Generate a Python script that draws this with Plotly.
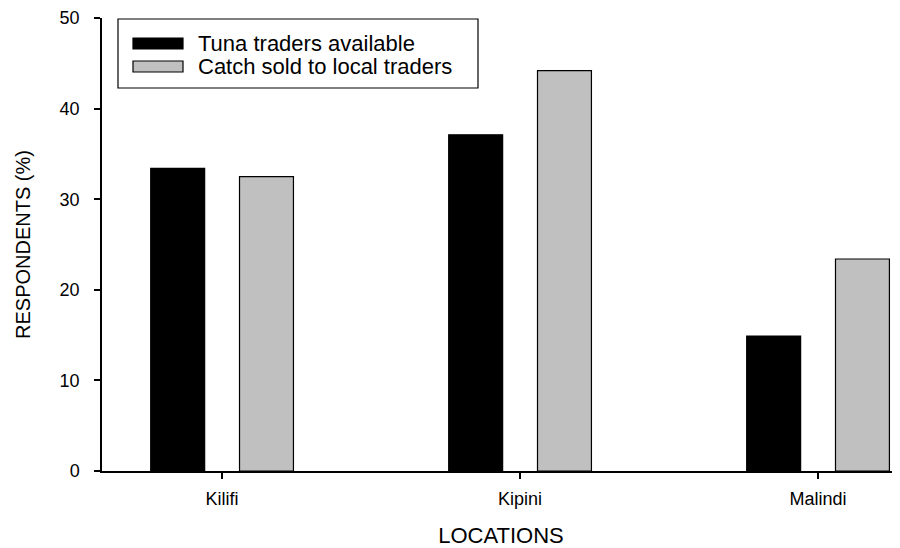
import plotly.graph_objects as go

# ---- data ----
locations = ["Kilifi", "Kipini", "Malindi"]
series_names = ["Tuna traders available", "Catch sold to local traders"]
tuna_traders = [33.4, 37.1, 14.9]
catch_sold = [32.5, 44.2, 23.4]
y_ticks = [0, 10, 20, 30, 40, 50]

colors = ["#000000", "#c0c0c0"]
FONT = "Liberation Sans, Arial, Helvetica, sans-serif"

# the page body adds an 8px margin, so the figure is drawn 8px smaller
PAGE_OFF = 8
W, H = 900 - PAGE_OFF, 548 - PAGE_OFF
ML, MR, MT, MB = 102 - PAGE_OFF, 0, 18 - PAGE_OFF, 77

fig = go.Figure()
bar_w = 0.181
offsets = [-0.2395, 0.0585]
for name, vals, col, off in zip(series_names, [tuna_traders, catch_sold], colors, offsets):
    fig.add_trace(go.Bar(
        x=locations, y=vals, name=name,
        width=bar_w, offset=off,
        marker=dict(color=col, line=dict(color="#000000", width=1.2)),
        showlegend=False,
    ))

# custom legend (box with wide swatches) in paper coordinates
pw = W - ML - MR
ph = H - MT - MB
def px_x(p):
    return (p - PAGE_OFF - ML) / pw
def px_y(p):
    return (H - MB - (p - PAGE_OFF)) / ph

shapes = [dict(type="rect", xref="paper", yref="paper",
               x0=px_x(118), x1=px_x(478), y0=px_y(88), y1=px_y(19),
               line=dict(color="black", width=1.2), fillcolor="white", layer="above")]
annotations = []
sw_rows = [(38, 49), (61, 72)]
for (t, b), name, col in zip(sw_rows, series_names, colors):
    shapes.append(dict(type="rect", xref="paper", yref="paper",
                       x0=px_x(133), x1=px_x(183), y0=px_y(b), y1=px_y(t),
                       line=dict(color="black", width=1.2), fillcolor=col, layer="above"))
    annotations.append(dict(xref="paper", yref="paper", x=px_x(196), y=px_y((t + b) / 2),
                            text=name, showarrow=False, xanchor="left", yanchor="middle",
                            font=dict(family=FONT, size=22, color="black")))

fig.update_layout(
    width=W, height=H,
    margin=dict(l=ML, r=MR, t=MT, b=MB),
    paper_bgcolor="white", plot_bgcolor="white",
    barmode="overlay",
    font=dict(family=FONT, color="black"),
    shapes=shapes, annotations=annotations,
    xaxis=dict(
        range=[-0.403, 2.275], showgrid=False, zeroline=False,
        showline=True, linecolor="black", linewidth=1.5,
        ticks="outside", ticklen=6, tickwidth=1.5, tickcolor="black",
        tickfont=dict(size=18, family=FONT), ticklabelstandoff=5,
        title=dict(text="LOCATIONS", font=dict(size=22, family=FONT), standoff=20),
    ),
    yaxis=dict(
        range=[0, 50], tickvals=y_ticks, showgrid=False, zeroline=False,
        showline=True, linecolor="black", linewidth=1.5,
        ticks="outside", ticklen=6, tickwidth=1.5, tickcolor="black",
        tickfont=dict(size=18, family=FONT), ticklabelstandoff=11,
        title=dict(text="RESPONDENTS (%)", font=dict(size=20, family=FONT), standoff=24),
    ),
)

fig.write_html("out.html")
